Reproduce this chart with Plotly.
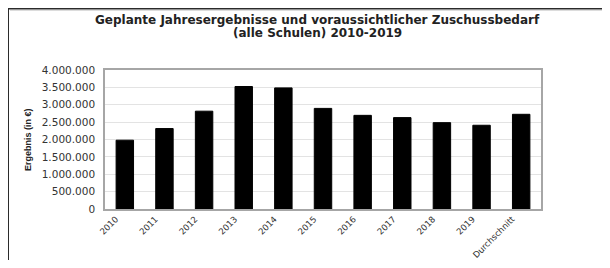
import plotly.graph_objects as go

categories = ["2010", "2011", "2012", "2013", "2014", "2015", "2016", "2017", "2018", "2019", "Durchschnitt"]
values = [1980000, 2315000, 2815000, 3525000, 3485000, 2895000, 2695000, 2630000, 2485000, 2410000, 2725000]
y_ticks = [0, 500000, 1000000, 1500000, 2000000, 2500000, 3000000, 3500000, 4000000]

# The page body has an 8px margin; lay out in viewport pixels and compensate.
OFF = 8
VW, VH = 610, 268
W, H = VW - OFF, VH - 2 * OFF
plot_l, plot_r, plot_t, plot_b = 105, 541, 70, 209  # viewport pixels
L = plot_l - OFF
R = W - (plot_r - OFF)
T = plot_t - OFF
B = H - (plot_b - OFF)
pw, ph = W - L - R, H - T - B

def px_x(vx):
    return (vx - OFF - L) / pw

def px_y(vy):
    return (H - B - (vy - OFF)) / ph

TICK_FONT = "DejaVu Sans, sans-serif"
TITLE_FONT = "DejaVu Sans, sans-serif"
AX_FONT = "Liberation Sans, Arial, sans-serif"

fig = go.Figure(go.Bar(
    x=categories, y=values,
    marker=dict(color="black", line=dict(color="black", width=1)),
))

fig.update_layout(
    width=W, height=H,
    margin=dict(l=L, r=R, t=T, b=B, pad=0),
    paper_bgcolor="white", plot_bgcolor="white",
    separators=",.",
    bargap=0.56,
    showlegend=False,
    font=dict(family=TICK_FONT, color="#222"),
    xaxis=dict(
        automargin=False,
        tickangle=-45, tickfont=dict(family=TICK_FONT, size=8.6, color="#333"),
        ticklabelshift=-9, ticklabelstandoff=0,
        showline=True, linecolor="#a6a6a6", linewidth=1.5, mirror=True,
        ticks="", showgrid=False,
    ),
    yaxis=dict(
        automargin=False,
        range=[0, 4000000], tickvals=y_ticks, tickformat=",d",
        tickfont=dict(family=TICK_FONT, size=10.5, color="#333"),
        ticklabelstandoff=6,
        showline=True, linecolor="#a6a6a6", linewidth=1.5, mirror=True,
        showgrid=True, gridcolor="#e3e3e3", gridwidth=1,
        ticks="", ticklen=0, zeroline=False,
    ),
    annotations=[
        dict(text="<b>Geplante Jahresergebnisse und voraussichtlicher Zuschussbedarf</b>",
             xref="paper", yref="paper", x=px_x(317), y=px_y(20), xanchor="center", yanchor="middle",
             showarrow=False, font=dict(family=TITLE_FONT, size=12, color="#222")),
        dict(text="<b>(alle Schulen) 2010-2019</b>",
             xref="paper", yref="paper", x=px_x(317), y=px_y(33), xanchor="center", yanchor="middle",
             showarrow=False, font=dict(family=TITLE_FONT, size=12, color="#222")),
        dict(text="<b>Ergebnis (in €)</b>", textangle=-90,
             xref="paper", yref="paper", x=px_x(28), y=px_y(140), xanchor="center", yanchor="middle",
             showarrow=False, font=dict(family=AX_FONT, size=9, color="#222")),
    ],
    shapes=[
        dict(type="line", xref="paper", yref="paper", layer="below",
             x0=px_x(7), x1=px_x(VW + 5), y0=px_y(8), y1=px_y(8),
             line=dict(color="#2b2b2b", width=3)),
        dict(type="line", xref="paper", yref="paper", layer="below",
             x0=px_x(10), x1=px_x(VW + 5), y0=px_y(10.5), y1=px_y(10.5),
             line=dict(color="#dcdcdc", width=1)),
        dict(type="line", xref="paper", yref="paper", layer="below",
             x0=px_x(7.5), x1=px_x(7.5), y0=px_y(7), y1=px_y(VH + 5),
             line=dict(color="#2b2b2b", width=3)),
    ],
)

fig.write_html("out.html")
